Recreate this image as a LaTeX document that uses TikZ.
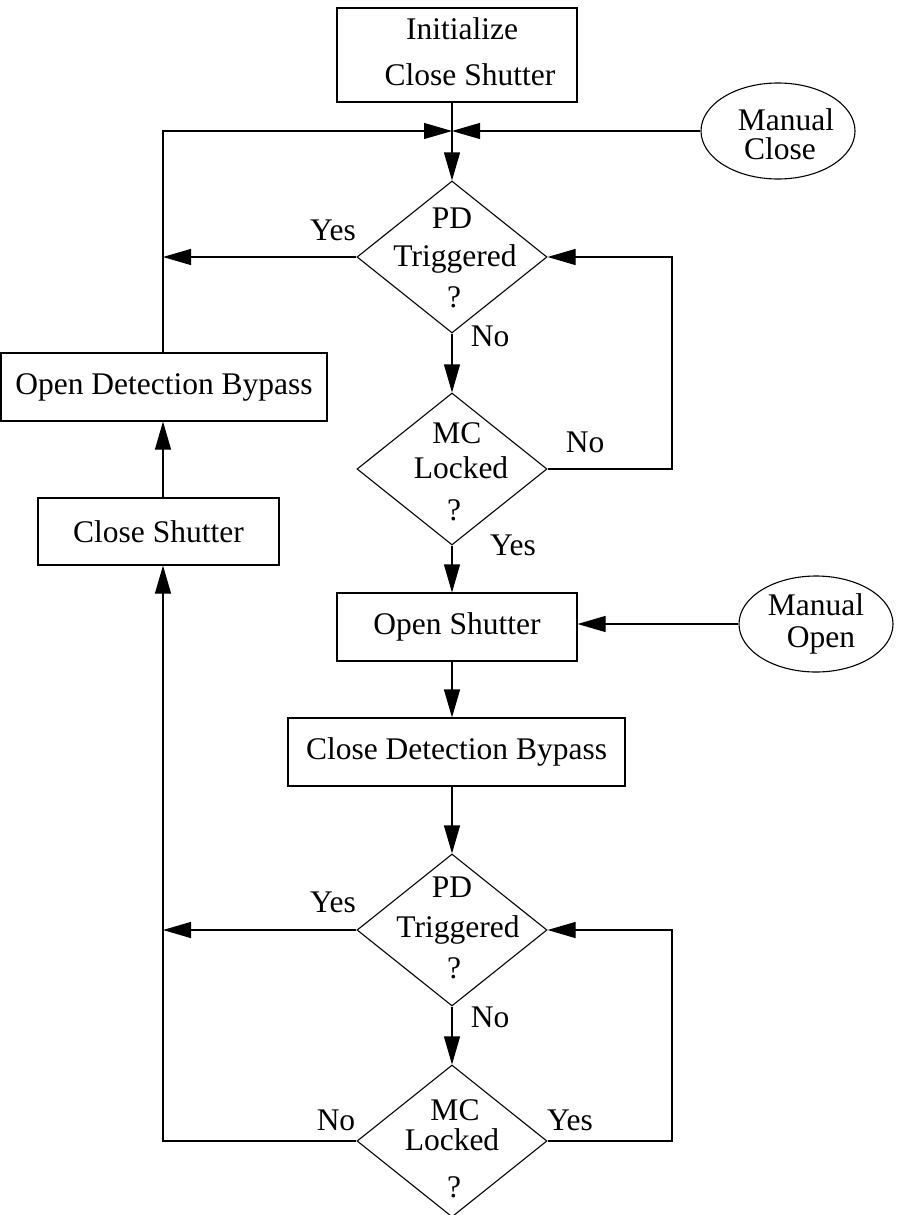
\documentclass[tikz,border=0pt]{standalone}
\usepackage{fontspec}
\setmainfont{Liberation Serif}
\usetikzlibrary{arrows.meta,shapes.geometric}
\newcommand\dgmfont{\fontsize{31.5}{36}\selectfont}
\begin{document}
\begin{tikzpicture}[x=1pt,y=-1pt, line width=1.1pt,
  box/.style={draw, rectangle, inner sep=0pt, font=\dgmfont},
  dia/.style={draw, diamond, inner sep=0pt, minimum width=190pt, minimum height=152pt},
  ell/.style={draw, ellipse, inner sep=0pt, minimum width=154pt, minimum height=96pt},
  txt/.style={inner sep=0pt, font=\dgmfont, anchor=base},
  arr/.style={-{Triangle[length=28pt,width=16pt]}}]
\useasboundingbox (0,0) rectangle (900,1215);

% nodes
\node[box, minimum width=240pt, minimum height=94pt] (init) at (457,55) {};
\node[txt] (initA) at (462,40) {Initialize};
\node[txt] (initB) at (470,85) {Close Shutter};
\coordinate (J) at (452,131);
\coordinate (TL) at (163,131);
\node[ell] (mclose) at (778,131) {};
\node[txt] (mcA) at (786,130) {Manual};
\node[txt] (mcB) at (780,159) {Close};

\node[dia] (d1) at (452,257) {};
\node[txt] (d1a) at (452,228) {PD};
\node[txt] (d1b) at (455,266) {Triggered};
\node[txt] (d1c) at (454,307) {?};
\coordinate (L1) at (163,257);
\coordinate (R1) at (672,257);

\node[box, minimum width=326pt, minimum height=68pt] (odb) at (164,387) {Open Detection Bypass};

\node[dia] (d2) at (452,469) {};
\node[txt] (d2a) at (457,443) {MC};
\node[txt] (d2b) at (461,478) {Locked};
\node[txt] (d2c) at (454,520) {?};
\coordinate (R2) at (672,469);

\node[box, minimum width=241pt, minimum height=67pt] (cs) at (158.5,531.5) {Close Shutter};
\node[box, minimum width=240pt, minimum height=68pt] (os) at (457,627) {Open Shutter};
\node[ell] (mopen) at (816,624) {};
\node[txt] (moA) at (816,615) {Manual};
\node[txt] (moB) at (821,647) {Open};
\node[box, minimum width=337pt, minimum height=68pt] (cdb) at (456.5,752) {Close Detection Bypass};

\node[dia] (d3) at (452,930) {};
\node[txt] (d3a) at (452,897) {PD};
\node[txt] (d3b) at (458,937) {Triggered};
\node[txt] (d3c) at (454,978) {?};
\coordinate (L3) at (163,930);
\coordinate (R3) at (672,930);

\node[dia] (d4) at (452,1141) {};
\node[txt] (d4a) at (455,1120) {MC};
\node[txt] (d4b) at (452,1150) {Locked};
\node[txt] (d4c) at (454,1197) {?};
\coordinate (L4) at (163,1141);
\coordinate (R4) at (672,1141);

% branch labels
\node[txt] (y1) at (333,240) {Yes};
\node[txt] (n1) at (490,346) {No};
\node[txt] (n2) at (585,452) {No};
\node[txt] (y2) at (513,555) {Yes};
\node[txt] (y3) at (333,912) {Yes};
\node[txt] (n3) at (490,1027) {No};
\node[txt] (n4) at (336,1130) {No};
\node[txt] (y4) at (570,1130) {Yes};

% connectors
\draw (init.south -| J) -- (J);
\draw[arr] (J) -- (d1.north);
\draw[arr] (odb.north -| TL) -- (TL) -- (J);
\draw[arr] (mclose.west) -- (J);
\draw[arr] (d1.west) -- (L1);
\draw[arr] (d1.south) -- (d2.north);
\draw[arr] (d2.east) -- (R2) -- (R1) -- (d1.east);
\draw[arr] (d2.south) -- (os.north -| J);
\draw[arr] (mopen.west) -- (mopen.west -| os.east);
\draw[arr] (os.south -| J) -- (cdb.north -| J);
\draw[arr] (cdb.south -| J) -- (d3.north);
\draw[arr] (d3.west) -- (L3);
\draw[arr] (d3.south) -- (d4.north);
\draw[arr] (d4.east) -- (R4) -- (R3) -- (d3.east);
\draw[arr] (d4.west) -- (L4) -- (cs.south -| L4);
\draw[arr] (cs.north -| L4) -- (odb.south -| L4);
\end{tikzpicture}
\end{document}
